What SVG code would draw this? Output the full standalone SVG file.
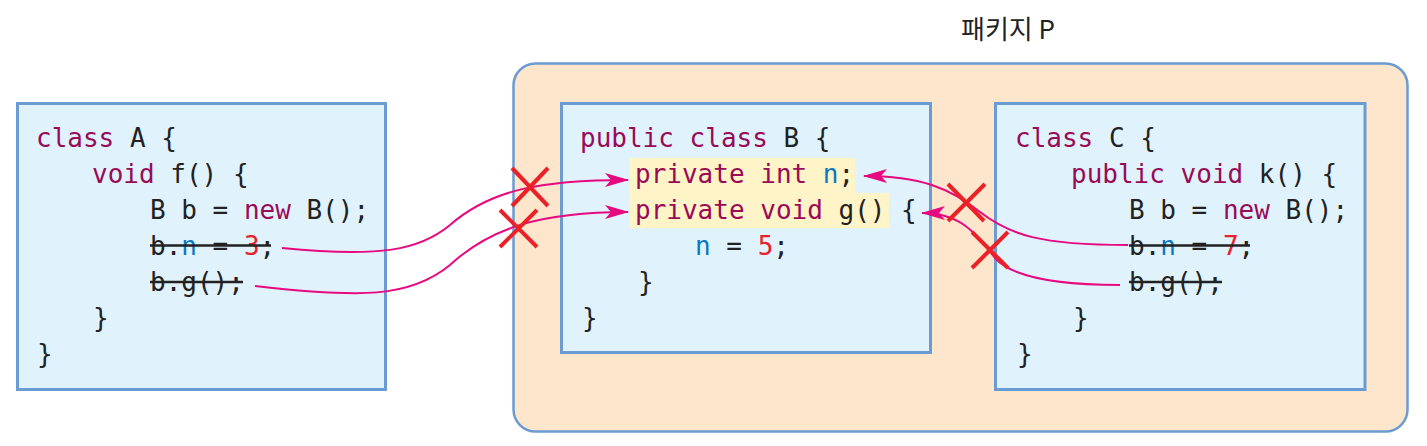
<svg xmlns="http://www.w3.org/2000/svg" width="1427" height="446" viewBox="0 0 1427 446">
<style>
.box{fill:#e0f3fd;stroke:#6a9bd3;stroke-width:3}
.pkg{fill:#fde6cb;stroke:#6a9bd3;stroke-width:2.5}
.code{font-family:"DejaVu Sans Mono","Liberation Mono",monospace;font-size:26px;fill:#222}
.kw{fill:#990a57}
.v{fill:#0a78c4}
.num{fill:#e8212a}
.strike{stroke:#222;stroke-width:2.5}
.hl{fill:#fff3c8}
.conn{fill:none;stroke:#e6097f;stroke-width:2}
.x{stroke:#ea2228;stroke-width:4;stroke-linecap:butt}
.title{font-family:"Noto Sans CJK KR","Noto Sans",sans-serif;font-size:26px;fill:#222}
</style>
<defs>
<marker id="ah" viewBox="0 0 24 14" refX="23" refY="7" markerWidth="24" markerHeight="14" markerUnits="userSpaceOnUse" orient="auto">
<path d="M0,0 L24,7 L0,14 L6,7 Z" fill="#e6097f"/>
</marker>
</defs>

<g id="package-P">
<rect class="pkg" x="513.5" y="63.5" width="894" height="368" rx="22" ry="22"/>
<text class="title" x="961" y="39">패키지 P</text>
</g>

<g id="classA">
<rect class="box" x="17.5" y="103.5" width="368" height="286"/>
<text class="code" x="36" y="147"><tspan class="kw">class</tspan> A {</text>
<text class="code" x="92" y="183"><tspan class="kw">void</tspan> f() {</text>
<text class="code" x="150" y="219">B b = <tspan class="kw">new</tspan> B();</text>
<text class="code" x="150" y="255">b.<tspan class="v">n</tspan> = <tspan class="num">3</tspan>;</text>
<line class="strike" x1="150" y1="245.5" x2="271" y2="245.5"/>
<text class="code" x="150" y="291">b.g();</text>
<line class="strike" x1="150" y1="282" x2="243" y2="282"/>
<text class="code" x="93" y="327">}</text>
<text class="code" x="37" y="363">}</text>
</g>

<g id="classB">
<rect class="box" x="561.5" y="103.5" width="369" height="249"/>
<rect class="hl" x="630" y="158" width="225" height="35"/>
<rect class="hl" x="630" y="193" width="259" height="35"/>
<text class="code" x="580" y="147"><tspan class="kw">public class</tspan> B {</text>
<text class="code" x="635" y="183"><tspan class="kw">private int</tspan> <tspan class="v">n</tspan>;</text>
<text class="code" x="635" y="219"><tspan class="kw">private void</tspan> g() {</text>
<text class="code" x="695" y="255"><tspan class="v">n</tspan> = <tspan class="num">5</tspan>;</text>
<text class="code" x="638" y="291">}</text>
<text class="code" x="582" y="327">}</text>
</g>

<g id="classC">
<rect class="box" x="995.5" y="103.5" width="369.5" height="286"/>
<text class="code" x="1015" y="147"><tspan class="kw">class</tspan> C {</text>
<text class="code" x="1071" y="183"><tspan class="kw">public void</tspan> k() {</text>
<text class="code" x="1129" y="219">B b = <tspan class="kw">new</tspan> B();</text>
<text class="code" x="1129" y="255">b.<tspan class="v">n</tspan> = <tspan class="num">7</tspan>;</text>
<line class="strike" x1="1129" y1="245.5" x2="1250" y2="245.5"/>
<text class="code" x="1129" y="291">b.g();</text>
<line class="strike" x1="1129" y1="282" x2="1222" y2="282"/>
<text class="code" x="1073" y="327">}</text>
<text class="code" x="1017" y="363">}</text>
</g>

<g id="connectors">
<path class="conn" marker-end="url(#ah)" d="M282,248 C380,258 420,250 450,225 C490,190 540,180 628,180"/>
<path class="conn" marker-end="url(#ah)" d="M255,286 C360,298 410,298 450,265 C490,228 540,212 628,212"/>
<path class="conn" marker-end="url(#ah)" d="M1128,245 C1040,245 1010,235 980,212 C950,188 920,176 864,176"/>
<path class="conn" marker-end="url(#ah)" d="M1120,285 C1050,285 1010,275 995,258 C975,232 960,213 922,213"/>
<g id="crosses">
<line class="x" x1="512" y1="168" x2="548" y2="206"/>
<line class="x" x1="548" y1="168" x2="512" y2="206"/>
<line class="x" x1="500" y1="210" x2="537" y2="247"/>
<line class="x" x1="537" y1="210" x2="500" y2="247"/>
<line class="x" x1="948" y1="184" x2="984" y2="221"/>
<line class="x" x1="985" y1="184" x2="948" y2="221"/>
<line class="x" x1="972" y1="232" x2="1008" y2="268"/>
<line class="x" x1="1008" y1="232" x2="972" y2="268"/>
</g>
</g>
</svg>
